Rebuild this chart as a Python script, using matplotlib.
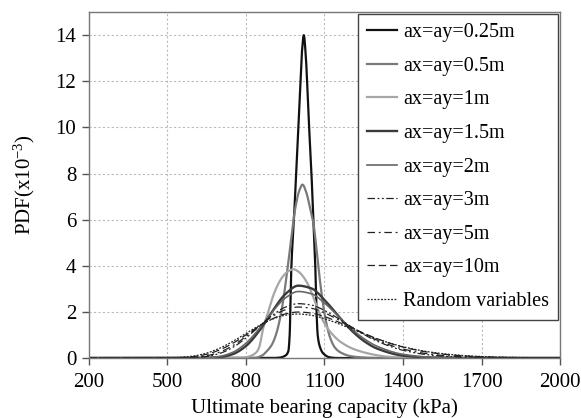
import numpy as np
import matplotlib
matplotlib.use("Agg")
import matplotlib.pyplot as plt

plt.rcParams['font.family'] = ['Liberation Serif', 'DejaVu Serif']
plt.rcParams['mathtext.fontset'] = 'custom'
plt.rcParams['mathtext.rm'] = 'Liberation Serif'
plt.rcParams['mathtext.it'] = 'Liberation Serif:italic'

# ---------------- data (PDF values in 1e-3) ----------------
x_025 = [200, 900, 930, 950, 962, 967, 973, 985, 996, 1008, 1014, 1021, 1028, 1040, 1051,
         1058, 1064, 1069, 1074, 1082, 1095, 1120, 1150, 2000]
pdf_025 = [0, 0, 0.02, 0.1, 0.3, 1.0, 3.8, 6.4, 9.0, 12.0, 13.3, 14.0, 13.2, 10.3, 7.8,
           5.8, 4.3, 2.2, 1.0, 0.5, 0.2, 0.03, 0, 0]

x_05 = [200, 830, 860, 880, 900, 917, 935, 958, 974, 990, 1005, 1016, 1030, 1045, 1057,
        1076, 1090, 1102, 1121, 1140, 1160, 1200, 1250, 1300, 2000]
pdf_05 = [0, 0, 0.1, 0.3, 0.6, 1.1, 2.0, 3.8, 5.3, 6.6, 7.3, 7.52, 7.2, 6.5, 5.9,
          4.0, 2.7, 1.8, 0.9, 0.45, 0.25, 0.08, 0.02, 0, 0]

x_1 = [200, 780, 800, 820, 840, 850, 866, 885, 904, 925, 942, 960, 981, 1000, 1032,
       1050, 1070, 1095, 1121, 1159, 1209, 1274, 1337, 1400, 1500, 2000]
pdf_1 = [0, 0, 0.03, 0.1, 0.25, 0.45, 1.3, 2.0, 2.7, 3.25, 3.55, 3.75, 3.85, 3.75, 3.3,
         2.85, 2.25, 1.6, 1.15, 0.72, 0.4, 0.18, 0.06, 0.02, 0, 0]

x_broad = [200, 500, 550, 600, 650, 700, 750, 800, 850, 900, 950, 1000, 1050, 1100, 1150,
           1200, 1250, 1300, 1400, 1500, 1600, 1700, 1800, 1900, 2000]
pdf_15 = [0, 0, 0, 0, 0.005, 0.038, 0.169, 0.520, 1.167, 2.011, 2.766, 3.138, 3.020, 2.520, 1.859,
          1.231, 0.743, 0.413, 0.103, 0.021, 0.003, 0, 0, 0, 0]
pdf_2 = [0, 0, 0, 0.002, 0.014, 0.071, 0.249, 0.641, 1.263, 1.993, 2.601, 2.885, 2.786, 2.386, 1.841,
         1.298, 0.845, 0.514, 0.159, 0.041, 0.009, 0.002, 0, 0, 0]
pdf_3 = [0, 0.0001, 0.003, 0.016, 0.067, 0.200, 0.463, 0.869, 1.365, 1.848, 2.203, 2.357, 2.297, 2.066, 1.734,
         1.370, 1.026, 0.734, 0.334, 0.134, 0.049, 0.016, 0.005, 0.002, 0.0004]
pdf_5 = [0, 0.001, 0.006, 0.029, 0.099, 0.258, 0.539, 0.933, 1.382, 1.797, 2.091, 2.211, 2.156, 1.959, 1.675,
         1.357, 1.051, 0.781, 0.389, 0.174, 0.071, 0.027, 0.010, 0.003, 0.001]
pdf_10 = [0, 0.003, 0.017, 0.060, 0.162, 0.354, 0.642, 1.000, 1.373, 1.695, 1.911, 1.995, 1.948, 1.797, 1.577,
          1.326, 1.074, 0.841, 0.475, 0.245, 0.118, 0.054, 0.023, 0.010, 0.004]
pdf_rv = [0, 0.0065, 0.028, 0.088, 0.214, 0.427, 0.723, 1.066, 1.404, 1.681, 1.855, 1.909, 1.852, 1.706, 1.504,
          1.275, 1.045, 0.832, 0.489, 0.265, 0.135, 0.065, 0.030, 0.014, 0.006]

labels = ['ax=ay=0.25m', 'ax=ay=0.5m', 'ax=ay=1m', 'ax=ay=1.5m', 'ax=ay=2m',
          'ax=ay=3m', 'ax=ay=5m', 'ax=ay=10m', 'Random variables']
x_ticks = [200, 500, 800, 1100, 1400, 1700, 2000]
y_ticks = [0, 2, 4, 6, 8, 10, 12, 14]


def pchip(x, y, xn):
    x = np.asarray(x, float); y = np.asarray(y, float)
    h = np.diff(x); d = np.diff(y) / h
    n = len(x); m = np.zeros(n)
    for k in range(1, n - 1):
        if d[k - 1] * d[k] > 0:
            w1 = 2 * h[k] + h[k - 1]; w2 = h[k] + 2 * h[k - 1]
            m[k] = (w1 + w2) / (w1 / d[k - 1] + w2 / d[k])
    idx = np.clip(np.searchsorted(x, xn) - 1, 0, n - 2)
    t = (xn - x[idx]) / h[idx]
    h00 = 2 * t**3 - 3 * t**2 + 1; h10 = t**3 - 2 * t**2 + t
    h01 = -2 * t**3 + 3 * t**2; h11 = t**3 - t**2
    return h00 * y[idx] + h10 * h[idx] * m[idx] + h01 * y[idx + 1] + h11 * h[idx] * m[idx + 1]


series = [
    (x_025, pdf_025, dict(color='#111111', lw=1.6, ls='-')),
    (x_05, pdf_05, dict(color='#7a7a7a', lw=1.6, ls='-')),
    (x_1, pdf_1, dict(color='#a6a6a6', lw=1.6, ls='-')),
    (x_broad, pdf_15, dict(color='#3a3a3a', lw=1.7, ls='-')),
    (x_broad, pdf_2, dict(color='#666666', lw=1.2, ls='-')),
    (x_broad, pdf_3, dict(color='#222222', lw=0.9, ls=(0, (6, 2, 1.5, 2, 1.5, 2)))),
    (x_broad, pdf_5, dict(color='#222222', lw=0.9, ls=(0, (6, 3, 1.5, 3)))),
    (x_broad, pdf_10, dict(color='#222222', lw=0.9, ls=(0, (6, 3)))),
    (x_broad, pdf_rv, dict(color='#222222', lw=0.9, ls=(0, (1.5, 1.2)))),
]

fig = plt.figure(figsize=(5.81, 4.18), dpi=100)
ax = fig.add_axes([0.153, 0.1435, 0.811, 0.8275])

xs = np.linspace(200, 2000, 3601)
for (xx, yy, st), lab in zip(series, labels):
    ax.plot(xs, np.clip(pchip(xx, yy, xs), 0, None), label=lab, **st)

ax.set_xlim(200, 2000)
ax.set_ylim(0, 15)
ax.set_xticks(x_ticks)
ax.set_yticks(y_ticks)
ax.tick_params(labelsize=15, direction='out', length=5, color='#555555', width=1)
ax.tick_params(axis='x', pad=6)
ax.tick_params(axis='y', pad=4)
ax.grid(True, color='#bbbbbb', ls=(0, (2, 2)), lw=0.8)
ax.set_axisbelow(True)
for sp in ax.spines.values():
    sp.set_color('#777777')
    sp.set_linewidth(1.0)

ax.set_xlabel('Ultimate bearing capacity (kPa)', fontsize=15, labelpad=4)
ax.set_ylabel('PDF(x10$^{-3}$)', fontsize=15, labelpad=13)

leg = ax.legend(loc='upper right', fontsize=14.5, frameon=True, fancybox=False,
                edgecolor='#444444', framealpha=1, borderaxespad=0.1,
                labelspacing=0.72, handlelength=1.5, handletextpad=0.3, borderpad=0.45)
leg.get_frame().set_linewidth(1.0)

fig.savefig('out.png', dpi=100)
